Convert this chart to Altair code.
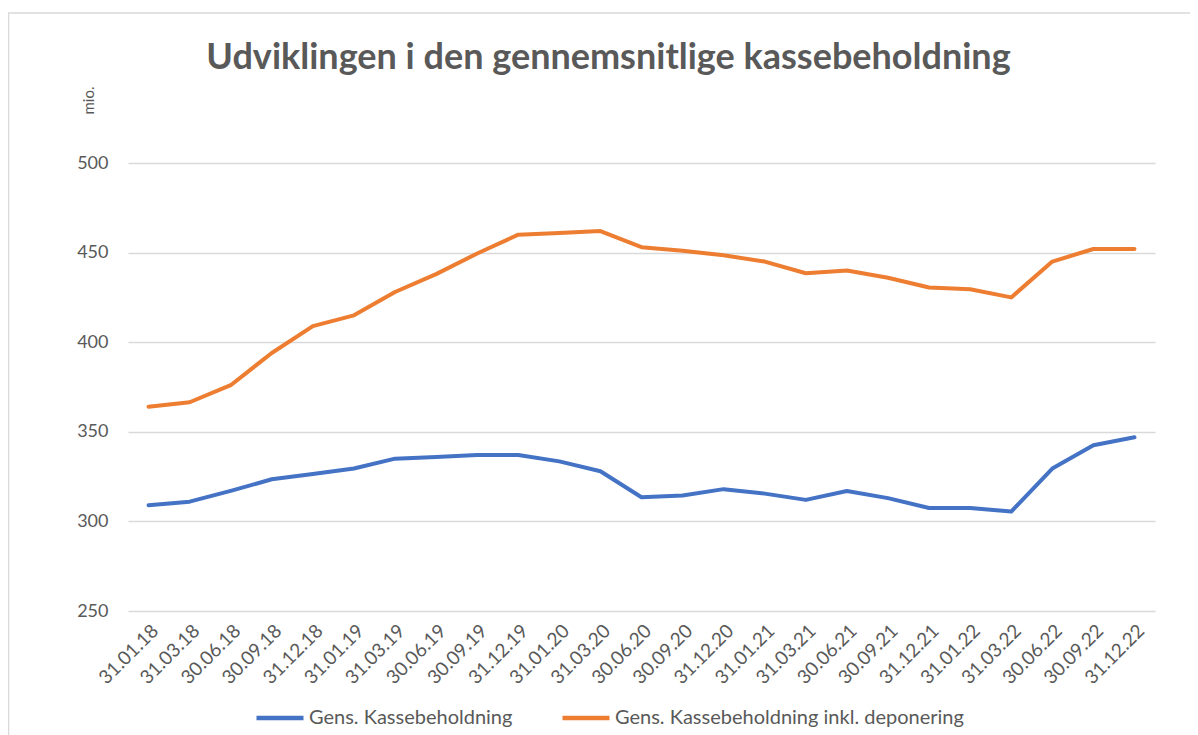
import altair as alt
import pandas as pd

categories = ["31.01.18", "31.03.18", "30.06.18", "30.09.18", "31.12.18", "31.01.19",
              "31.03.19", "30.06.19", "30.09.19", "31.12.19", "31.01.20", "31.03.20",
              "30.06.20", "30.09.20", "31.12.20", "31.01.21", "31.03.21", "30.06.21",
              "30.09.21", "31.12.21", "31.01.22", "31.03.22", "30.06.22", "30.09.22",
              "31.12.22"]
kasse = [309, 311, 317, 323.5, 326.5, 329.5, 335, 336, 337, 337, 333.5, 328,
         313.5, 314.5, 318, 315.5, 312, 317, 313, 307.5, 307.5, 305.5, 329.5, 342.5, 347]
kasse_dep = [364, 366.5, 376, 394, 409, 415, 428, 438, 449.5, 460, 461, 462,
             453, 451, 448.5, 445, 438.5, 440, 436, 430.5, 429.5, 425, 445, 452, 452]
series_names = ["Gens. Kassebeholdning", "Gens. Kassebeholdning inkl. deponering"]
series_colors = ["#4472C4", "#ED7D31"]
y_ticks = [250, 300, 350, 400, 450, 500]

rows = []
for name, vals in zip(series_names, [kasse, kasse_dep]):
    for c, v in zip(categories, vals):
        rows.append({"dato": c, "serie": name, "vaerdi": v})
df = pd.DataFrame(rows)

W, H = 1027, 448
PL, PT = 120, 155
PR = 1182 - PL - W
PB = 727 - PT - H
FONT = "Lato"
GREY = "#595959"

lines = alt.Chart(df).mark_line(strokeWidth=4, strokeCap="round", strokeJoin="round").encode(
    x=alt.X("dato:N", sort=categories, title=None,
            axis=alt.Axis(labelAngle=-45, labelFontSize=19, labelColor=GREY, labelFont=FONT,
                          domain=False, ticks=False, labelPadding=10, grid=False)),
    y=alt.Y("vaerdi:Q", scale=alt.Scale(domain=[250, 500], nice=False, zero=False),
            axis=alt.Axis(values=y_ticks, title="mio.", titleX=-40, titleY=-63,
                          titleAngle=-90, titleAlign="center", titleBaseline="middle",
                          titleFontSize=15, titleFontWeight="normal", titleColor=GREY,
                          titleFont=FONT,
                          labelFontSize=18, labelColor=GREY, labelFont=FONT, labelPadding=20,
                          domain=False, ticks=False, grid=True, gridColor="#d9d9d9",
                          gridWidth=1.3)),
    color=alt.Color("serie:N", scale=alt.Scale(domain=series_names, range=series_colors),
                    legend=alt.Legend(title=None, orient="none", legendX=126, legendY=529,
                                      direction="horizontal", symbolType="stroke",
                                      symbolSize=2209, symbolStrokeWidth=4.5,
                                      labelFontSize=20, labelColor=GREY, labelFont=FONT,
                                      labelLimit=0, columnPadding=40, labelOffset=3)),
)

frame = alt.Chart(pd.DataFrame({"a": [0]})).mark_rect(
    fillOpacity=0, stroke="#d9d9d9", strokeWidth=1.5
).encode(x=alt.value(-PL + 0.5), x2=alt.value(W + PR + 10), y=alt.value(-PT + 5),
         y2=alt.value(H + PB + 10))

chart = alt.layer(frame, lines).properties(
    width=W, height=H,
    padding={"left": PL, "top": PT, "right": PR, "bottom": PB},
    autosize=alt.AutoSizeParams(type="none"),
    title=alt.TitleParams("Udviklingen i den gennemsnitlige kassebeholdning", fontSize=36,
                          font=FONT, fontWeight="bold", color=GREY, anchor="middle",
                          dx=-33, dy=78, offset=13),
).configure_view(stroke=None)

chart.save("out.html", embed_options={"renderer": "svg", "actions": False})
